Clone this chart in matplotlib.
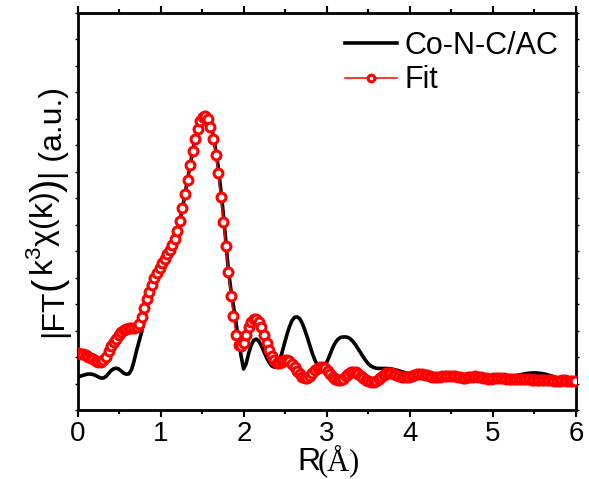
import numpy as np
import matplotlib
matplotlib.use('Agg')
import matplotlib.pyplot as plt

plt.rcParams['font.family'] = ['Liberation Sans', 'DejaVu Sans']
plt.rcParams['mathtext.fontset'] = 'custom'
plt.rcParams['mathtext.rm'] = 'Liberation Sans'
plt.rcParams['mathtext.it'] = 'Liberation Sans'
plt.rcParams['mathtext.sf'] = 'Liberation Sans'

# R grid step (A), values at every grid point
r_step = 0.0307

sample = [
    1.25, 1.28, 1.31, 1.34, 1.36, 1.36, 1.34, 1.30, 1.25, 1.21,
    1.21, 1.27, 1.38, 1.49, 1.56, 1.58, 1.55, 1.47, 1.39, 1.35,
    1.37, 1.52, 1.85, 2.25, 2.60, 2.95, 3.40, 3.95, 4.40, 4.72,
    4.98, 5.18, 5.37, 5.55, 5.72, 5.88, 6.04, 6.22, 6.45, 6.75,
    7.15, 7.62, 8.15, 8.70, 9.25, 9.78, 10.25, 10.62, 10.92, 11.08,
    11.13, 11.04, 10.80, 10.40, 9.85, 9.20, 8.35, 7.45, 6.40, 5.30,
    4.55, 3.94, 3.30, 2.67, 2.05, 1.55, 1.75, 2.15, 2.45, 2.64,
    2.68, 2.60, 2.42, 2.20, 1.98, 1.80, 1.67, 1.62, 1.65, 1.85,
    2.15, 2.50, 2.85, 3.15, 3.38, 3.50, 3.52, 3.45, 3.28, 3.03,
    2.74, 2.43, 2.13, 1.88, 1.70, 1.60, 1.58, 1.68, 1.88, 2.12,
    2.36, 2.55, 2.67, 2.74, 2.76, 2.76, 2.74, 2.68, 2.58, 2.45,
    2.30, 2.15, 2.00, 1.86, 1.74, 1.66, 1.61, 1.58, 1.57, 1.57,
    1.57, 1.57, 1.56, 1.55, 1.53, 1.51, 1.48, 1.45, 1.42, 1.40,
    1.38, 1.36, 1.35, 1.34, 1.33, 1.32, 1.31, 1.30, 1.29, 1.28,
    1.27, 1.26, 1.26, 1.26, 1.26, 1.25, 1.25, 1.25, 1.25, 1.25,
    1.24, 1.24, 1.24, 1.24, 1.24, 1.24, 1.24, 1.23, 1.23, 1.23,
    1.23, 1.23, 1.23, 1.23, 1.23, 1.23, 1.23, 1.23, 1.24, 1.25,
    1.26, 1.28, 1.30, 1.32, 1.34, 1.36, 1.38, 1.39, 1.40, 1.40,
    1.40, 1.39, 1.38, 1.36, 1.34, 1.31, 1.28, 1.25, 1.22, 1.19,
    1.16, 1.14, 1.12, 1.11, 1.10, 1.09,
]

fit = [
    2.15, 2.13, 2.10, 2.06, 2.02, 1.97, 1.92, 1.87, 1.83, 1.81,
    1.88, 2.02, 2.22, 2.40, 2.56, 2.70, 2.83, 2.93, 3.01, 3.06,
    3.09, 3.10, 3.11, 3.14, 3.25, 3.50, 3.85, 4.18, 4.47, 4.74,
    4.98, 5.18, 5.37, 5.55, 5.72, 5.88, 6.04, 6.22, 6.45, 6.75,
    7.15, 7.62, 8.15, 8.70, 9.25, 9.78, 10.25, 10.62, 10.90, 11.06,
    11.10, 10.98, 10.70, 10.25, 9.65, 8.95, 8.05, 7.10, 6.20, 5.20,
    4.30, 3.55, 2.85, 2.45, 2.40, 2.55, 2.85, 3.12, 3.32, 3.42,
    3.42, 3.32, 3.12, 2.85, 2.55, 2.28, 2.05, 1.88, 1.78, 1.76,
    1.82, 1.88, 1.89, 1.85, 1.75, 1.62, 1.48, 1.36, 1.26, 1.21,
    1.21, 1.28, 1.40, 1.52, 1.60, 1.63, 1.62, 1.57, 1.48, 1.37,
    1.26, 1.17, 1.13, 1.13, 1.18, 1.27, 1.36, 1.42, 1.44, 1.42,
    1.36, 1.28, 1.20, 1.13, 1.08, 1.06, 1.06, 1.10, 1.17, 1.25,
    1.33, 1.38, 1.40, 1.40, 1.37, 1.33, 1.29, 1.26, 1.24, 1.24,
    1.26, 1.29, 1.32, 1.35, 1.36, 1.36, 1.34, 1.31, 1.28, 1.25,
    1.24, 1.24, 1.25, 1.27, 1.29, 1.30, 1.30, 1.29, 1.27, 1.25,
    1.23, 1.22, 1.22, 1.23, 1.25, 1.26, 1.27, 1.26, 1.24, 1.22,
    1.20, 1.19, 1.19, 1.20, 1.21, 1.22, 1.22, 1.21, 1.19, 1.17,
    1.16, 1.16, 1.17, 1.18, 1.19, 1.19, 1.18, 1.16, 1.14, 1.13,
    1.13, 1.14, 1.15, 1.15, 1.15, 1.14, 1.12, 1.11, 1.10, 1.11,
    1.12, 1.12, 1.11, 1.10, 1.09, 1.09,
]

r = np.arange(len(sample)) * r_step

W, H = 589, 479
fig = plt.figure(figsize=(W / 100, H / 100), dpi=100)
ax = fig.add_axes([0.1324, 0.144, 0.8455, 0.829])

ax.plot(r, sample, color='black', lw=2.6, label='Co-N-C/AC', zorder=2)
ax.plot(r, fit, color='red', lw=1.1, marker='o', ms=6.4, mfc='white',
        mec='red', mew=2.2, label='Fit', zorder=3)

ax.set_xlim(0, 6)
ax.set_ylim(0, 15)
ax.set_xticks(range(7))
ax.set_xticks(np.arange(0.5, 6, 1), minor=True)
ax.set_yticks(range(16))
ax.set_yticklabels([])

ax.tick_params(axis='x', which='major', direction='out', length=5, width=1.5,
               labelsize=20, pad=3)
ax.tick_params(axis='x', which='minor', direction='out', length=3, width=1.5)
ax.tick_params(axis='x', which='both', top=True)
ax.tick_params(axis='y', direction='out', length=2.5, width=1, right=True)
for s in ax.spines.values():
    s.set_linewidth(2)

# y label built from pieces so the brackets can be large
# (text, fontsize, baseline x in px)
pieces = [
    ('|FT', 23, 62),
    ('(', 29, 60),
    (r'$\mathrm{k}^{3}\chi(\mathrm{k})$', 23, 54),
    (')', 29, 60),
    ('| (a.u.)', 23, 62),
]
renderer = fig.canvas.get_renderer()
texts = []
for s, fs, bx in pieces:
    t = fig.text(bx / W, 0, s, rotation=90, rotation_mode='anchor',
                 ha='left', va='baseline', fontsize=fs)
    texts.append(t)
lengths = [t.get_window_extent(renderer).height for t in texts]
y = (H - 212) - sum(lengths) / 2
for t, ln in zip(texts, lengths):
    t.set_y(y / H)
    y += ln

fig.text(297 / W, 1 - 470 / H, 'R', fontsize=23, va='baseline', ha='left')
fig.text(318 / W, 1 - 470 / H, '(Å)', family='Liberation Serif',
         fontsize=22, va='baseline', ha='left')

ax.legend(loc='upper left', bbox_to_anchor=(0.536, 0.955), frameon=False,
          fontsize=22, handlelength=1.7, handletextpad=0.25,
          labelspacing=0.15, borderpad=0, borderaxespad=0, markerscale=0.75)

plt.savefig('out.png', dpi=100)
